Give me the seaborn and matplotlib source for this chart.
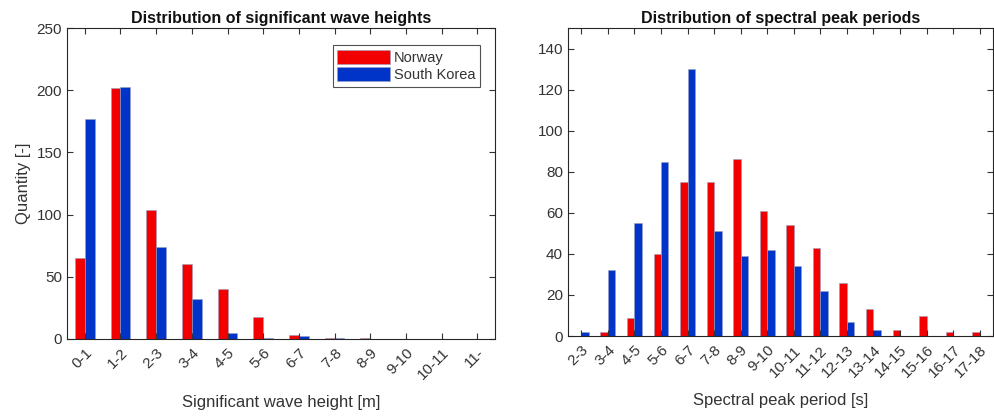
import pandas as pd
import matplotlib
matplotlib.use("Agg")
import matplotlib.pyplot as plt
import seaborn as sns

# -------------------------
# DATA
# -------------------------
hs_bins = ["0-1", "1-2", "2-3", "3-4", "4-5", "5-6", "6-7", "7-8",
           "8-9", "9-10", "10-11", "11-"]
hs_norway = [65, 202, 104, 60, 40, 18, 3, 1, 1, 0, 0, 0]
hs_korea = [177, 203, 74, 32, 5, 1, 2, 1, 0, 0, 0, 0]

tp_bins = ["2-3", "3-4", "4-5", "5-6", "6-7", "7-8", "8-9", "9-10", "10-11",
           "11-12", "12-13", "13-14", "14-15", "15-16", "16-17", "17-18"]
tp_norway = [0, 2, 9, 40, 75, 75, 86, 61, 54, 43, 26, 13, 3, 10, 2, 2]
tp_korea = [2, 32, 55, 85, 130, 51, 39, 42, 34, 22, 7, 3, 0, 0, 0, 0]

countries = ["Norway", "South Korea"]
colors = {"Norway": "#f20000", "South Korea": "#0033c8"}

text_col = "#333333"
plt.rcParams["font.family"] = ["Liberation Sans", "DejaVu Sans"]
plt.rcParams["text.color"] = text_col
plt.rcParams["axes.labelcolor"] = text_col
plt.rcParams["xtick.color"] = text_col
plt.rcParams["ytick.color"] = text_col


def long_df(bins, nor, kor):
    return pd.DataFrame({
        "bin": bins * 2,
        "country": ["Norway"] * len(bins) + ["South Korea"] * len(bins),
        "count": nor + kor,
    })


hs_df = long_df(hs_bins, hs_norway, hs_korea)
tp_df = long_df(tp_bins, tp_norway, tp_korea)

fig = plt.figure(figsize=(9.94, 4.19), dpi=100)
ax1 = fig.add_axes([0.0674, 0.191, 0.4306, 0.742])
ax2 = fig.add_axes([0.5714, 0.198, 0.4276, 0.735])


def draw(ax, df, bins, title, xlabel, ymax, yticks):
    sns.barplot(data=df, x="bin", y="count", hue="country", order=bins,
                hue_order=countries, palette=colors, saturation=1,
                width=0.56, dodge=True, edgecolor="#9aa0c0", linewidth=0.4,
                ax=ax)
    ax.set_xlim(-0.5, len(bins) - 0.5)
    ax.set_ylim(0, ymax)
    ax.set_yticks(yticks)
    ax.set_title(title, fontsize=11.5, fontweight="bold", color="#111111", pad=4)
    ax.set_xlabel(xlabel, fontsize=12, labelpad=9)
    ax.tick_params(axis="both", direction="in", top=True, right=True,
                   length=4, width=0.8, labelsize=11)
    ax.tick_params(axis="x", pad=5)
    for lab in ax.get_xticklabels():
        lab.set_rotation(45)
        lab.set_ha("right")
        lab.set_rotation_mode("anchor")
    for s in ax.spines.values():
        s.set_color("#262626")
        s.set_linewidth(0.8)


draw(ax1, hs_df, hs_bins, "Distribution of significant wave heights",
     "Significant wave height [m]", 250, range(0, 251, 50))
draw(ax2, tp_df, tp_bins, "Distribution of spectral peak periods",
     "Spectral peak period [s]", 150, range(0, 141, 20))

ax1.set_ylabel("Quantity [-]", fontsize=12, labelpad=4)
ax2.set_ylabel("")

ax1.legend(loc="upper right", bbox_to_anchor=(0.965, 0.945), fontsize=10.5,
           frameon=True, fancybox=False, edgecolor="#262626",
           handlelength=3.6, handleheight=1.1, handletextpad=0.3,
           labelspacing=0.2, borderpad=0.3, borderaxespad=0)
ax1.get_legend().get_frame().set_linewidth(0.8)
if ax2.get_legend() is not None:
    ax2.get_legend().remove()

fig.savefig("out.png", dpi=100)
